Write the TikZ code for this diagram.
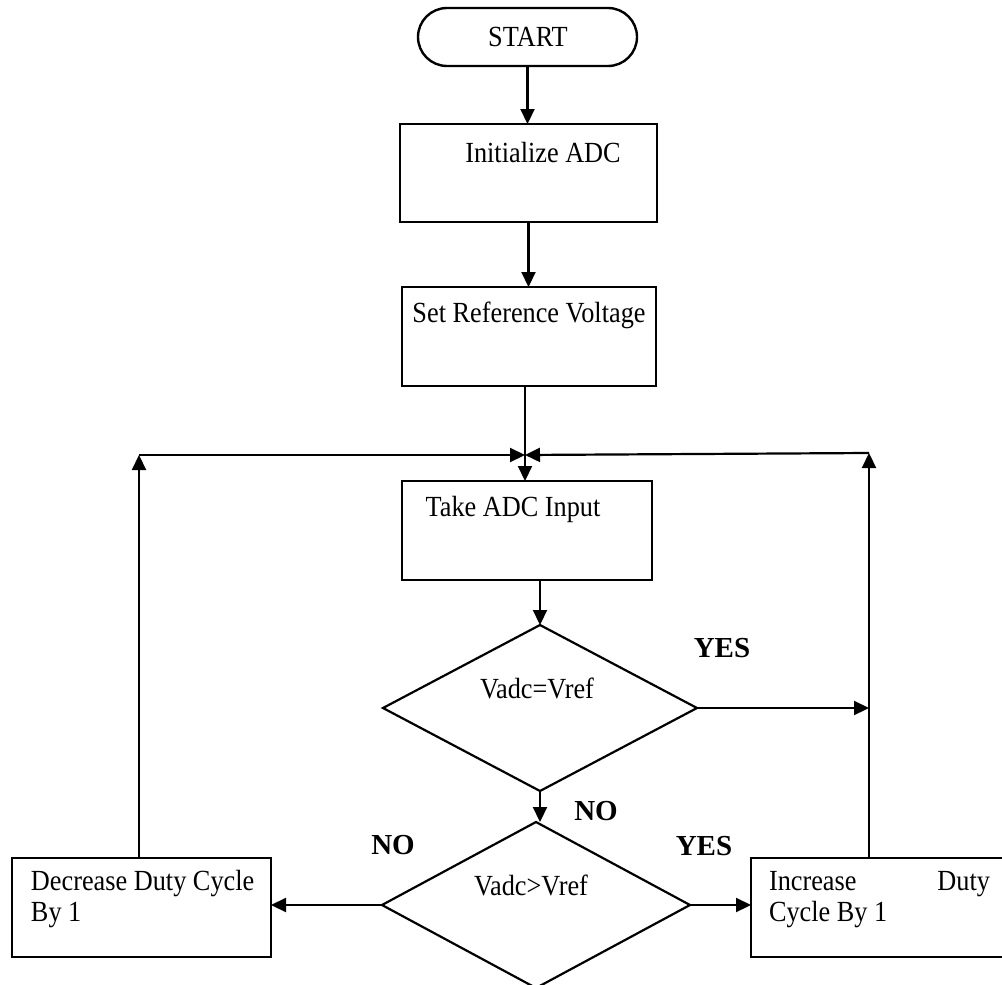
\documentclass[tikz,border=0pt]{standalone}
\usepackage{fontspec}
\setmainfont{Liberation Serif}
\newfontfamily\condfont[FakeStretch=0.9]{Liberation Serif}
\usetikzlibrary{shapes.geometric,arrows.meta}
\begin{document}
\begin{tikzpicture}[x=0.5pt,y=-0.5pt,
  every node/.style={inner sep=0pt, outer sep=0pt},
  box/.style={draw, rectangle, line width=1.3pt},
  term/.style={draw, rectangle, rounded corners=14.5pt, line width=1.2pt},
  dia/.style={draw, diamond, line width=1.1pt},
  txt/.style={font=\condfont\fontsize{14.6}{15.5}\selectfont},
  lbl/.style={font=\fontsize{14.5}{15.5}\selectfont\bfseries},
  conn/.style={line width=1.1pt},
  arr/.style={conn, -{Triangle[length=7.5pt,width=7pt]}},
]
\useasboundingbox (0,0) rectangle (1002,985);
\clip (0,0) rectangle (1002,985);

% shapes
\node[term, minimum width=109.5pt, minimum height=29pt] (start) at (527.5,37) {};
\node[txt] (startT) at (528,37) {START};
\node[box, minimum width=128.5pt, minimum height=49pt] (init) at (528.5,173) {};
\node[txt] (initT) at (543,153) {Initialize ADC};
\node[box, minimum width=127pt, minimum height=49.5pt] (set) at (529,336.5) {};
\node[txt] (setT) at (529,315) {Set Reference Voltage};
\node[box, minimum width=125pt, minimum height=49.5pt] (take) at (527,530.5) {};
\node[txt] (takeT) at (513,509) {Take ADC Input};
\node[dia, minimum width=157pt, minimum height=83pt] (d1) at (540,708) {};
\node[txt] (d1T) at (537,688) {Vadc=Vref};
\node[dia, minimum width=154pt, minimum height=83pt] (d2) at (536,905) {};
\node[txt] (d2T) at (531,885) {Vadc>Vref};
\node[box, minimum width=129.5pt, minimum height=49.5pt] (dec) at (141.5,907.5) {};
\node[txt, anchor=west, align=left] (decT) at (31,899.5) {Decrease Duty Cycle\\By 1};
\node[box, minimum width=129.5pt, minimum height=49.5pt] (inc) at (880.5,907.5) {};
\node[txt, anchor=west, align=left] (incT) at (769,899.5) {\makebox[110.5pt][s]{Increase Duty}\\Cycle By 1};

% labels
\node[lbl] (yes1) at (722,648) {YES};
\node[lbl] (no1) at (596,811) {NO};
\node[lbl] (no2) at (393,845) {NO};
\node[lbl] (yes2) at (704,846) {YES};

% junction coordinates
\coordinate (j) at (525,455);
\coordinate (lc) at (139,455);
\coordinate (rc) at (869,453);

% connectors
\draw[arr] (start.south) -- (start.south |- init.north);
\draw[arr] (init.south) -- (init.south |- set.north);
\draw[conn] (set.south -| j) -- (j);
\draw[arr] (j) -- (j |- take.north);
\draw[arr] (dec.north -| lc) -- (lc);
\draw[arr] (lc) -- (j);
\draw[arr] (inc.north -| rc) -- (rc);
\draw[arr] (rc) -- (j);
\draw[arr] (take.south -| d1.north) -- (d1.north);
\draw[arr] (d1.east) -- (d1.east -| rc);
\draw[arr] (d1.south) -- (d1.south |- d2.north);
\draw[arr] (d2.west) -- (d2.west -| dec.east);
\draw[arr] (d2.east) -- (d2.east -| inc.west);
\end{tikzpicture}
\end{document}
